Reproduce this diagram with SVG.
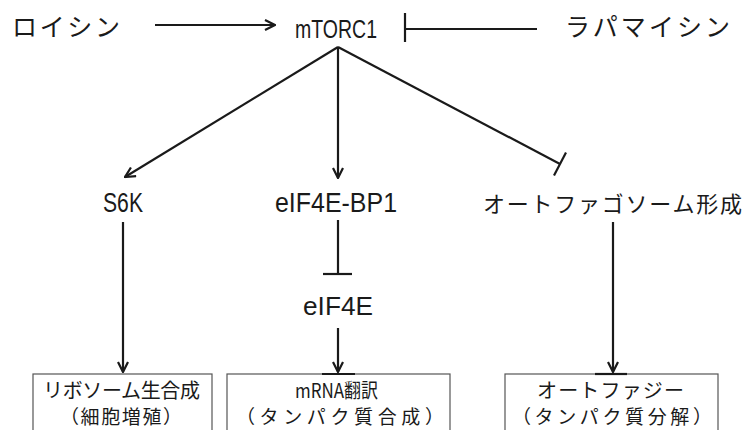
<svg xmlns="http://www.w3.org/2000/svg" width="745" height="430" viewBox="0 0 745 430">
<style>
.lat{font-family:"Liberation Sans","Noto Sans CJK JP",sans-serif;fill:#1a1a1a}
.jp{font-family:"Noto Sans CJK JP","Liberation Sans",sans-serif;fill:#1a1a1a}
.ln{stroke:#1a1a1a;stroke-width:2.2;fill:none}
.box{fill:#fff;stroke:#555;stroke-width:1.2}
</style>
<defs>
<marker id="arr" viewBox="0 0 12 12" refX="11" refY="6" markerWidth="12" markerHeight="12" markerUnits="userSpaceOnUse" orient="auto">
<path d="M1,1 L11,6 L1,11" fill="none" stroke="#1a1a1a" stroke-width="2.2"/>
</marker>
</defs>
<rect width="745" height="430" fill="#fff"/>
<g id="leucine"><text class="jp" x="12" y="36" font-size="25" textLength="108" lengthAdjust="spacing">ロイシン</text></g>
<g id="mtorc1"><text class="lat" x="295" y="38" font-size="26" textLength="82" lengthAdjust="spacingAndGlyphs">mTORC1</text></g>
<g id="rapamycin"><text class="jp" x="565" y="36" font-size="25" textLength="165" lengthAdjust="spacing">ラパマイシン</text></g>
<g id="s6k"><text class="lat" x="103" y="212" font-size="27" textLength="40" lengthAdjust="spacingAndGlyphs">S6K</text></g>
<g id="eif4ebp1"><text class="lat" x="275" y="212" font-size="27" textLength="122" lengthAdjust="spacingAndGlyphs">eIF4E-BP1</text></g>
<g id="autophagosome"><text class="jp" x="483" y="212" font-size="22" textLength="259" lengthAdjust="spacing">オートファゴソーム形成</text></g>
<g id="eif4e"><text class="lat" x="303" y="315" font-size="25" textLength="70" lengthAdjust="spacingAndGlyphs">eIF4E</text></g>
<g id="ribosome">
<rect class="box" x="33" y="374" width="179" height="70"/>
<text class="jp" x="43" y="398" font-size="20" textLength="157" lengthAdjust="spacing">リボソーム生合成</text>
<text class="jp" x="60" y="424" font-size="19" textLength="122" lengthAdjust="spacing">（細胞増殖）</text>
</g>
<g id="translation">
<rect class="box" x="227" y="374" width="223" height="70"/>
<text class="jp" x="295" y="398" font-size="20" textLength="83" lengthAdjust="spacingAndGlyphs">mRNA翻訳</text>
<text class="jp" x="236" y="424" font-size="19" textLength="208" lengthAdjust="spacing">（タンパク質合成）</text>
</g>
<g id="autophagy">
<rect class="box" x="505" y="374" width="213" height="70"/>
<text class="jp" x="537" y="398" font-size="20" textLength="147" lengthAdjust="spacing">オートファジー</text>
<text class="jp" x="512" y="424" font-size="19" textLength="200" lengthAdjust="spacing">（タンパク質分解）</text>
</g>
<g id="connectors">
<line class="ln" x1="155" y1="25" x2="275" y2="25" marker-end="url(#arr)"/>
<line class="ln" x1="405" y1="13" x2="405" y2="42" stroke-width="2.5"/>
<line class="ln" x1="405" y1="29" x2="537" y2="29"/>
<line class="ln" x1="338" y1="47" x2="125" y2="177" marker-end="url(#arr)"/>
<line class="ln" x1="338" y1="47" x2="338" y2="178" marker-end="url(#arr)"/>
<line class="ln" x1="338" y1="47" x2="560" y2="164"/>
<line class="ln" x1="566" y1="152.5" x2="554" y2="175.5"/>
<line class="ln" x1="123" y1="222" x2="123" y2="372" marker-end="url(#arr)"/>
<line class="ln" x1="338" y1="220" x2="338" y2="274" stroke-width="2.6"/>
<line class="ln" x1="323" y1="274" x2="352" y2="274"/>
<line class="ln" x1="338" y1="328" x2="338" y2="372" marker-end="url(#arr)"/>
<line class="ln" x1="613" y1="222" x2="613" y2="372" marker-end="url(#arr)"/>
<line class="ln" x1="322" y1="374" x2="355" y2="374"/>
<line class="ln" x1="595" y1="374" x2="627" y2="374"/>
</g>
</svg>
